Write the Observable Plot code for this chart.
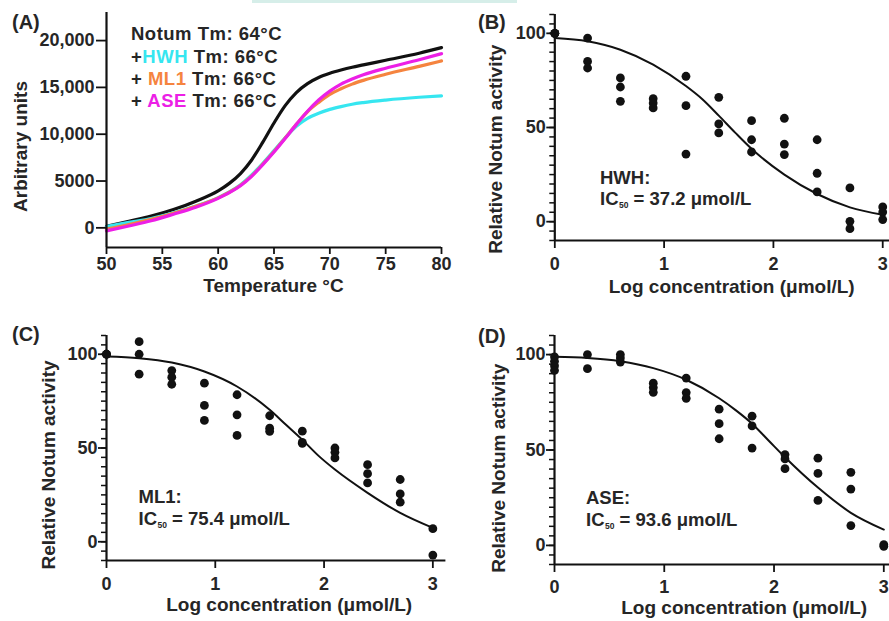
<!DOCTYPE html>
<html>
<head>
<meta charset="utf-8">
<script src="https://cdn.jsdelivr.net/npm/d3@7"></script>
<script src="https://cdn.jsdelivr.net/npm/@observablehq/plot@0.6"></script>
<style>
html, body { margin: 0; padding: 0; background: #fff; overflow: hidden; }
#root { position: relative; width: 889px; height: 621px; overflow: hidden; }
.panel { position: absolute; }
.panel svg { display: block; overflow: visible; }
#overlay { position: absolute; left: 0; top: 0; pointer-events: none; }
#topbar { position: absolute; left: 252px; top: 0; width: 265px; height: 3px; background: #d6eee9; }
</style>
</head>
<body>
<div id="root"><div id="topbar"></div></div>
<script>
// ---------- Panel A: thermal shift curves ----------
const meltTemp = [50, 52, 54, 56, 58, 60, 61, 62, 63, 64, 65, 66, 67, 68, 69, 70, 71, 72, 73, 75, 78, 80];
const notumMelt = [150, 700, 1250, 1950, 2850, 3950, 4750, 5800, 7250, 9150, 11200, 13050, 14450, 15400, 16050, 16500, 16850, 17150, 17400, 17900, 18650, 19250];
const hwhMelt   = [140, 580, 1000, 1600, 2330, 3230, 3830, 4600, 5650, 6900, 8250, 9620, 10850, 11700, 12250, 12650, 12950, 13200, 13380, 13650, 13950, 14100];
const ml1Melt   = [-140, 350, 900, 1550, 2300, 3200, 3800, 4550, 5550, 6800, 8150, 9600, 11050, 12400, 13400, 14250, 14850, 15350, 15750, 16400, 17250, 17830];
const aseMelt   = [-320, 200, 750, 1450, 2200, 3150, 3750, 4500, 5500, 6750, 8100, 9550, 11050, 12450, 13650, 14600, 15350, 15900, 16350, 17050, 17950, 18600];
const aXTicks = [50, 55, 60, 65, 70, 75, 80];
const aYTicks = [0, 5000, 10000, 15000, 20000];
const aYTickLabels = ["0", "5000", "10,000", "15,000", "20,000"];

// ---------- Panels B-D: dose response ----------
const logTicks = [0, 1, 2, 3];
const actTicks = [0, 50, 100];

const hwhLog = [0,0,0, 0.3,0.3,0.3, 0.6,0.6,0.6, 0.9,0.9,0.9, 1.2,1.2,1.2, 1.5,1.5,1.5, 1.8,1.8,1.8, 2.1,2.1,2.1, 2.4,2.4,2.4, 2.7,2.7,2.7, 3,3,3];
const hwhAct = [100,100,100, 97.5,85.1,81.6, 76.3,71.5,63.9, 65.3,63,60.4, 77.2,61.6,35.9, 66,51.9,47.1, 53.6,43.5,37, 54.9,41.2,35.6, 43.5,25.7,15.8, 17.9,0.2,-3.7, 7.8,5.1,1.1];
const hwhFitLog = [0, 0.3, 0.6, 0.9, 1.2, 1.35, 1.5, 1.65, 1.8, 2.1, 2.4, 2.7, 3];
const hwhFit    = [97.5, 95.8, 91.3, 83.4, 72, 65, 56.3, 47.3, 38.7, 25, 14.7, 7.6, 3.7];

const ml1Log = [0,0,0, 0.3,0.3,0.3, 0.6,0.6,0.6, 0.9,0.9,0.9, 1.2,1.2,1.2, 1.5,1.5,1.5, 1.8,1.8,1.8, 2.1,2.1,2.1, 2.4,2.4,2.4, 2.7,2.7,2.7, 3,3];
const ml1Act = [100,100,100, 106.7,100,89.4, 91.3,87.8,84, 84.6,72.7,64.7, 78.4,67.7,56.7, 67.2,60.6,58.9, 59,53,52.5, 50,47.7,44.7, 41.1,36.3,31.4, 33.2,25.5,21.1, 7,-7.1];
const ml1FitLog = [0, 0.3, 0.6, 0.9, 1.2, 1.5, 1.65, 1.8, 1.95, 2.1, 2.4, 2.7, 3];
const ml1Fit    = [98.8, 97.9, 95.6, 90.8, 82.8, 70.4, 62.4, 54.4, 45.8, 38.5, 26.1, 15.4, 7.4];

const aseLog = [0,0,0,0, 0.3,0.3, 0.6,0.6,0.6, 0.9,0.9,0.9, 1.2,1.2,1.2, 1.5,1.5,1.5, 1.8,1.8,1.8, 2.1,2.1,2.1, 2.4,2.4,2.4, 2.7,2.7,2.7, 3,3];
const aseAct = [98.8,96.5,94.2,91.7, 100,92.6, 100,98.2,96.1, 85,82.7,80.2, 87.7,80.1,77.1, 71.4,63.8,55.9, 67.7,62.6,51, 47.6,45.3,40.2, 45.7,37.7,23.6, 38.3,29.5,10.4, 0.4,-0.5];
const aseFitLog = [0, 0.3, 0.6, 0.9, 1.2, 1.5, 1.65, 1.8, 1.95, 2.1, 2.4, 2.7, 3];
const aseFit    = [98.8, 98.2, 96.5, 92.9, 86.8, 77.1, 70.9, 63.8, 55, 46.2, 30.3, 17.1, 8.3];

const FONT = '"Liberation Sans", Arial, Helvetica, sans-serif';
const INK = "#111";
const TXT = "#262626";
const COLORS = { notum: "#111111", hwh: "#36e6f0", ml1: "#f5843f", ase: "#ec1fe6" };

const root = document.getElementById("root");
function place(svg, left, top) {
  const d = document.createElement("div");
  d.className = "panel";
  d.style.left = left + "px";
  d.style.top = top + "px";
  d.appendChild(svg);
  root.appendChild(d);
}
const baseStyle = { fontFamily: FONT, fontWeight: "bold", fontSize: "18px", color: TXT, background: "transparent", overflow: "visible" };
const rowsOf = (xs, ys) => xs.map((x, i) => ({ x, y: ys[i] }));

// ----- Panel A -----
const plotA = Plot.plot({
  width: 445, height: 300,
  marginLeft: 106, marginRight: 4, marginTop: 12, marginBottom: 53,
  x: { domain: [50, 80] },
  y: { domain: [-2100, 23000] },
  style: baseStyle,
  marks: [
    Plot.line(rowsOf(meltTemp, notumMelt), { x: "x", y: "y", stroke: COLORS.notum, strokeWidth: 3.2, curve: "monotone-x" }),
    Plot.line(rowsOf(meltTemp, hwhMelt), { x: "x", y: "y", stroke: COLORS.hwh, strokeWidth: 3.2, curve: "monotone-x" }),
    Plot.line(rowsOf(meltTemp, ml1Melt), { x: "x", y: "y", stroke: COLORS.ml1, strokeWidth: 3.2, curve: "monotone-x" }),
    Plot.line(rowsOf(meltTemp, aseMelt), { x: "x", y: "y", stroke: COLORS.ase, strokeWidth: 3.2, curve: "monotone-x" }),
    Plot.ruleX([50], { stroke: INK, strokeWidth: 2.2 }),
    Plot.ruleY([-2100], { stroke: INK, strokeWidth: 2.2 }),
    Plot.axisY(aYTicks, { tickSize: 10, tickPadding: 2, fontSize: 18, stroke: INK, strokeWidth: 1.8, fill: TXT, label: null,
      tickFormat: d => aYTickLabels[aYTicks.indexOf(d)] }),
    Plot.axisX(aXTicks, { tickSize: 7, tickPadding: 3, fontSize: 18, stroke: INK, strokeWidth: 1.8, fill: TXT, label: null })
  ]
});
place(plotA, 0, 0);

// ----- Dose-response panel factory -----
function dosePanel({ log, act, fitLog, fit, width, height, mL, mR, mT, mB, xMax, xPad }) {
  return Plot.plot({
    width, height,
    marginLeft: mL, marginRight: mR, marginTop: mT, marginBottom: mB,
    x: { domain: [0, xMax] },
    y: { domain: [-10, 110] },
    style: baseStyle,
    marks: [
      Plot.ruleX([0], { stroke: INK, strokeWidth: 2.2 }),
      Plot.ruleY([-10], { stroke: INK, strokeWidth: 2.2 }),
      Plot.axisY(d3.range(-10, 111, 5), { tickSize: 5, stroke: INK, strokeWidth: 1.5, fill: "none", label: null }),
      Plot.axisY(actTicks, { tickSize: 8, tickPadding: 1, fontSize: 18, stroke: INK, strokeWidth: 1.8, fill: TXT, label: null }),
      Plot.axisX(logTicks, { tickSize: 8, tickPadding: xPad, fontSize: 18, stroke: INK, strokeWidth: 1.8, fill: TXT, label: null }),
      Plot.line(rowsOf(fitLog, fit), { x: "x", y: "y", stroke: INK, strokeWidth: 2, curve: "monotone-x" }),
      Plot.dot(rowsOf(log, act), { x: "x", y: "y", r: 4.4, fill: INK, stroke: "none" })
    ]
  });
}

place(dosePanel({ log: hwhLog, act: hwhAct, fitLog: hwhFitLog, fit: hwhFit, width: 449, height: 310, mL: 114.3, mR: 0, mT: 14, mB: 70, xMax: 3.062, xPad: 9 }), 440, 0);
place(dosePanel({ log: ml1Log, act: ml1Act, fitLog: ml1FitLog, fit: ml1Fit, width: 450, height: 311, mL: 106, mR: 4.6, mT: 25, mB: 61, xMax: 3.12, xPad: 8.5 }), 0, 310);
place(dosePanel({ log: aseLog, act: aseAct, fitLog: aseFitLog, fit: aseFit, width: 449, height: 311, mL: 114, mR: 0, mT: 25, mB: 57, xMax: 3.052, xPad: 7.5 }), 440, 310);

// ---------- Text overlay (titles, panel labels, legend, annotations) ----------
const ov = d3.select(root).append("svg")
  .attr("id", "overlay").attr("width", 889).attr("height", 621)
  .style("font-family", FONT).style("font-weight", "bold").attr("fill", TXT);

const panelLabels = [["(A)", 12, 28.5], ["(B)", 478, 28.5], ["(C)", 12, 340.5], ["(D)", 478, 343]];
panelLabels.forEach(([t, x, y]) => ov.append("text").attr("x", x).attr("y", y).attr("font-size", 20).text(t));

const xTitles = [["Temperature °C", 273.5, 291.5], ["Log concentration (μmol/L)", 731.7, 293], ["Log concentration (μmol/L)", 289.2, 611], ["Log concentration (μmol/L)", 744.2, 613.5]];
xTitles.forEach(([t, x, y]) => ov.append("text").attr("x", x).attr("y", y).attr("font-size", 19).attr("text-anchor", "middle").text(t));

const yTitles = [["Arbitrary units", 27, 146.5], ["Relative Notum activity", 502, 149.2], ["Relative Notum activity", 55, 465], ["Relative Notum activity", 505, 468.3]];
yTitles.forEach(([t, x, y]) => ov.append("text").attr("transform", `translate(${x},${y}) rotate(-90)`).attr("font-size", 19).attr("text-anchor", "middle").text(t));

// Legend of panel A
const legendRows = [
  [["Notum Tm: 64°C", TXT]],
  [["+", TXT], ["HWH", COLORS.hwh], [" Tm: 66°C", TXT]],
  [["+ ", TXT], ["ML1", COLORS.ml1], [" Tm: 66°C", TXT]],
  [["+ ", TXT], ["ASE", COLORS.ase], [" Tm: 66°C", TXT]]
];
const legendBase = [40.3, 62.5, 84.5, 106.5];
legendRows.forEach((parts, i) => {
  const t = ov.append("text").attr("x", 131).attr("y", legendBase[i]).attr("font-size", 18.5).attr("letter-spacing", 0.5).style("white-space", "pre");
  parts.forEach(([s, c]) => t.append("tspan").attr("fill", c).text(s));
});

// IC50 annotations
const notes = [["HWH:", "37.2", 600, 184, 205], ["ML1:", "75.4", 138.5, 503.3, 525], ["ASE:", "93.6", 586, 504.3, 526]];
notes.forEach(([name, ic, x, y1, y2]) => {
  ov.append("text").attr("x", x).attr("y", y1).attr("font-size", 18.5).text(name);
  const t = ov.append("text").attr("x", x).attr("y", y2).attr("font-size", 18.5).style("white-space", "pre");
  t.append("tspan").text("IC");
  t.append("tspan").attr("font-size", 8.5).attr("dy", 2.5).attr("dx", 0.5).text("50");
  t.append("tspan").attr("dy", -2.5).text(` = ${ic} μmol/L`);
});
</script>
</body>
</html>
